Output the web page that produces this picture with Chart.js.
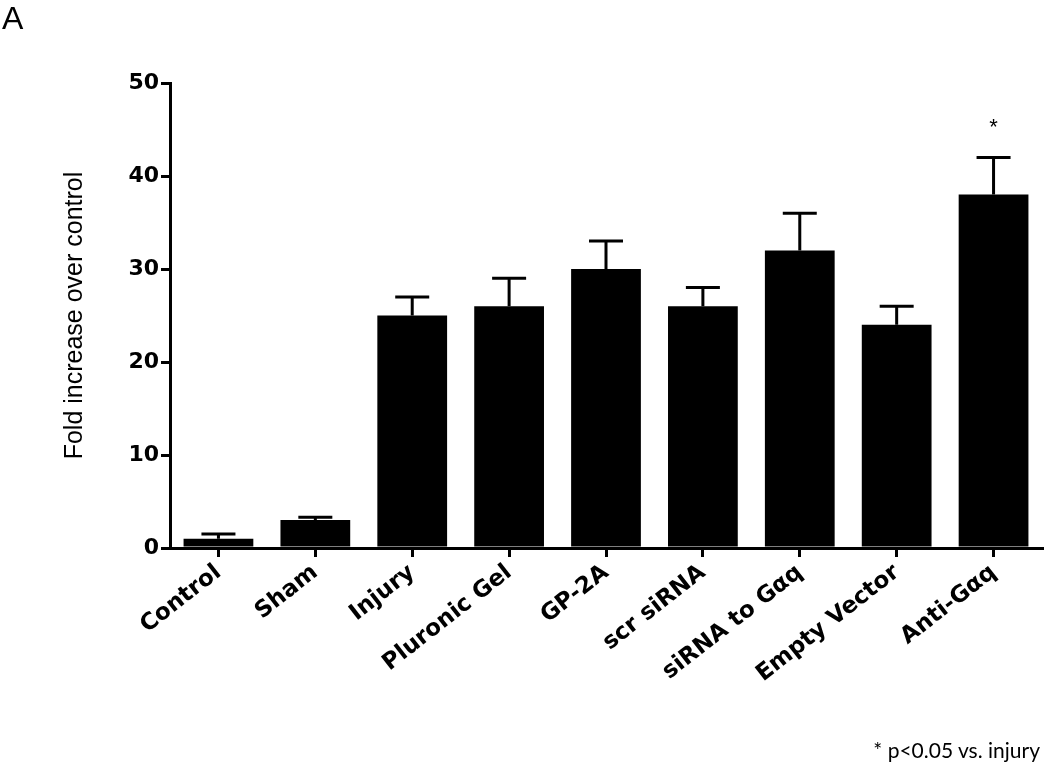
<!DOCTYPE html>
<html>
<head>
<meta charset="utf-8">
<script src="https://cdn.jsdelivr.net/npm/chart.js"></script>
<style>
  body { margin: 0; background: #fff; }
  #wrap { position: relative; width: 1050px; height: 776px; font-family: "Liberation Sans", Arial, sans-serif; }
  #panel { position: absolute; left: 2px; top: 0px; font-size: 32px; }
  #note { position: absolute; right: 10px; top: 737px; font-family: Lato, "Liberation Sans", sans-serif; font-size: 21px; }
</style>
</head>
<body>
<div id="wrap">
  <canvas id="myChart" width="1050" height="776"></canvas>
  <div id="panel">A</div>
  <div id="note">* p&lt;0.05 vs. injury</div>
</div>
<script>
var groups = ["Control", "Sham", "Injury", "Pluronic Gel", "GP-2A", "scr siRNA", "siRNA to G\u03b1q", "Empty Vector", "Anti-G\u03b1q"];
var foldValues = [1, 3, 25, 26, 30, 26, 32, 24, 38];
var semValues = [0.5, 0.3, 2, 3, 3, 2, 4, 2, 4];
var starMarks = ["", "", "", "", "", "", "", "", "*"];
var yTicks = [0, 10, 20, 30, 40, 50];

var font = "'Liberation Sans', Arial, sans-serif";
var boldFont = "'DejaVu Sans', sans-serif";

// upper error bars and significance stars
var errorBars = {
  id: "errorBars",
  afterDatasetsDraw: function (chart) {
    var ctx = chart.ctx;
    var y = chart.scales.y;
    var bars = chart.getDatasetMeta(0).data;
    ctx.save();
    ctx.strokeStyle = "#000";
    ctx.lineWidth = 3;
    bars.forEach(function (bar, i) {
      var top = y.getPixelForValue(foldValues[i] + semValues[i]);
      var base = y.getPixelForValue(foldValues[i]);
      ctx.beginPath();
      ctx.moveTo(bar.x, base);
      ctx.lineTo(bar.x, top);
      ctx.moveTo(bar.x - 17, top);
      ctx.lineTo(bar.x + 17, top);
      ctx.stroke();
      if (starMarks[i]) {
        ctx.fillStyle = "#000";
        ctx.font = "22px " + font;
        ctx.textAlign = "center";
        ctx.textBaseline = "middle";
        ctx.fillText(starMarks[i], bar.x, y.getPixelForValue(foldValues[i] + semValues[i] + 3.2));
      }
    });
    ctx.restore();
  }
};

new Chart("myChart", {
  type: "bar",
  data: {
    labels: groups,
    datasets: [{
      data: foldValues,
      backgroundColor: "#000",
      borderColor: "#000",
      borderWidth: 0,
      barPercentage: 0.72,
      categoryPercentage: 1
    }]
  },
  options: {
    responsive: false,
    animation: false,
    layout: { padding: { left: 60, top: 83, right: 8, bottom: 0 } },
    plugins: { legend: { display: false }, tooltip: { enabled: false } },
    scales: {
      x: {
        afterFit: function (s) { s.height = 228; },
        border: { color: "#000", width: 3 },
        grid: { offset: false, drawOnChartArea: false, color: "#000", lineWidth: 3, tickLength: 9 },
        ticks: {
          color: "#000",
          maxRotation: 38,
          minRotation: 38,
          padding: 2,
          font: { family: boldFont, size: 23, weight: "bold" }
        }
      },
      y: {
        min: 0,
        max: 50,
        afterFit: function (s) { s.width = 110; },
        afterBuildTicks: function (s) { s.ticks = yTicks.map(function (v) { return { value: v }; }); },
        border: { color: "#000", width: 3 },
        grid: { drawOnChartArea: false, color: "#000", lineWidth: 3, tickLength: 9 },
        ticks: {
          color: "#000",
          padding: 2,
          font: { family: boldFont, size: 22, weight: "bold" }
        },
        title: {
          display: true,
          text: "Fold increase over control",
          color: "#000",
          padding: 0,
          font: { family: font, size: 25 }
        }
      }
    }
  },
  plugins: [errorBars]
});
</script>
</body>
</html>
